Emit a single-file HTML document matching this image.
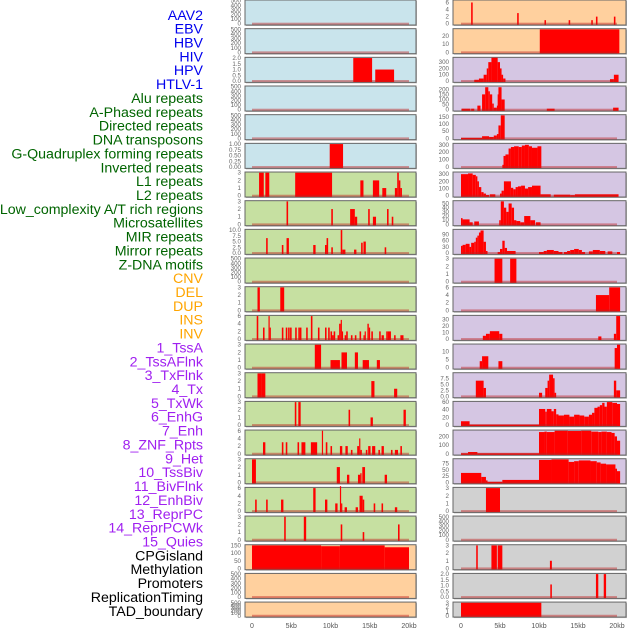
<!DOCTYPE html>
<html><head><meta charset="utf-8">
<style>
html,body{margin:0;padding:0;background:#fff;}
svg{display:block;}
</style></head>
<body>
<svg id="chart" width="630" height="630" xmlns="http://www.w3.org/2000/svg" font-family="Liberation Sans, sans-serif"></svg>
<script>
const labels = ["AAV2","EBV","HBV","HIV","HPV","HTLV-1","Alu repeats","A-Phased repeats","Directed repeats","DNA transposons","G-Quadruplex forming repeats","Inverted repeats","L1 repeats","L2 repeats","Low_complexity A/T rich regions","Microsatellites","MIR repeats","Mirror repeats","Z-DNA motifs","CNV","DEL","DUP","INS","INV","1_TssA","2_TssAFlnk","3_TxFlnk","4_Tx","5_TxWk","6_EnhG","7_Enh","8_ZNF_Rpts","9_Het","10_TssBiv","11_BivFlnk","12_EnhBiv","13_ReprPC","14_ReprPCWk","15_Quies","CPGisland","Methylation","Promoters","ReplicationTiming","TAD_boundary"];
const labelGroups = [6,13,5,15,5];
const groupColors = ["#0000ee","#006400","#ffa500","#a020f0","#000000"];
const xTicks = [0,5,10,15,20];
const xTickLabels = ["0","5kb","10kb","15kb","20kb"];

const L0=[],L1=[],L3=[],L4=[],L9=[],L20=[],L21=[];
const L2=[[12.9,15.3,2],[15.7,18.1,1]];
const L5=[[9.9,11.6,1]];
const L6=[[0.9,1.5,3],[1.7,2.2,3],[5.5,10.2,3],[13.8,14.2,2],[15.4,16.2,2],[16.6,17.1,1],[18.2,18.5,1],[18.5,18.7,3],[18.7,18.9,2],[18.9,19.1,1]];
const L7=[[4.4,4.6,3],[10.1,10.3,2],[12.5,13.1,2],[13.1,13.4,1],[14.8,15.0,2],[15.4,15.8,1],[17.2,17.4,2],[17.8,18.0,1]];
const L8=[[1.8,2.0,6.5],[3.8,4.0,3.5],[4.4,4.7,6.5],[7.8,8.1,3.5],[9.3,9.5,3.5],[9.5,9.7,6.5],[10.1,10.3,2.5],[11.3,11.5,10],[11.5,11.9,1.5],[13.0,13.3,1.5],[13.9,14.1,4.5],[14.2,14.5,5],[16.9,17.1,2.5]];
const L10=[[0.7,1.0,3],[3.6,4.1,3]];
const L11=[[0.6,0.8,6],[1.4,1.6,3],[2.1,2.25,6],[2.25,2.4,3],[3.8,4.0,3],[4.3,4.5,3],[4.6,4.8,3],[4.85,5.05,3],[5.5,5.7,3],[5.9,6.1,3],[6.1,6.3,3],[6.9,7.1,3],[7.5,7.7,6],[8.4,8.6,3],[9.3,9.5,3],[9.7,9.9,3],[10.0,10.2,2],[10.2,10.4,1],[10.4,10.6,2],[10.9,11.1,1],[11.1,11.3,4],[11.3,11.45,5],[11.45,11.6,2],[11.8,12.0,1],[12.0,12.2,2],[12.6,12.8,1],[13.1,13.3,1],[13.7,13.9,2],[14.2,14.35,1],[14.35,14.5,2],[14.7,14.88,4],[14.88,15.05,3],[15.2,15.4,2],[16.2,16.4,2],[16.5,16.8,1],[17.1,17.3,2],[17.3,17.7,2],[18.1,18.3,1],[18.9,19.3,1]];
const L12=[[8.0,8.8,3],[10.0,11.2,1],[11.4,12.1,2],[13.1,13.5,2],[14.1,14.9,1],[15.9,16.3,1]];
const L13=[[0.7,1.2,3],[1.2,1.7,3],[15.2,15.6,2],[18.1,18.5,1]];
const L14=[[5.45,5.65,3],[5.9,6.2,3],[12.3,12.5,2],[15.1,15.4,1],[19.3,19.6,2]];
const L15=[[1.4,1.7,3],[3.8,4.0,3],[4.3,4.5,3],[5.8,6.0,3],[6.3,6.8,3],[7.5,8.3,3],[8.9,9.05,6],[9.4,9.6,3],[10.0,10.2,2],[11.2,11.5,2],[11.9,12.2,2],[12.6,12.8,1],[13.4,13.65,2],[13.65,13.8,4],[13.8,14.0,1],[14.5,14.7,1],[14.8,15.1,2],[15.3,15.7,2],[16.1,16.3,1],[16.5,16.8,2],[17.7,17.9,1],[18.2,18.6,1],[18.9,19.1,2]];
const L16=[[0.0,0.5,3],[10.8,11.2,2],[12.1,12.4,1],[13.5,13.8,1],[13.8,13.95,1.2],[14.05,14.4,2],[16.9,17.2,1]];
const L17=[[0.4,0.6,3],[1.8,2.0,3],[3.7,4.0,3],[7.8,8.1,6],[9.3,9.6,3],[10.6,10.9,2],[11.2,11.35,6.5],[11.35,11.5,2],[11.8,12.1,1],[13.2,13.5,1],[13.7,14.1,4],[14.1,14.3,3],[15.5,15.7,2],[16.5,16.7,2],[18.2,18.5,1]];
const L18=[[4.1,4.3,3],[6.6,6.9,3],[11.3,11.5,2],[14.1,14.3,1],[18.6,18.8,2]];
const L19=[[0.0,8.8,150],[8.8,11.2,145],[11.2,16.9,150],[16.9,20.0,138]];

const R0=[[1.3,1.5,6],[7.2,7.4,3],[10.7,10.9,1],[13.8,14.0,1],[16.7,16.9,1],[17.3,17.5,2],[19.6,19.8,2]];
const R1=[[10.1,20.3,28]];
const R2=[[1.7,2.3,20],[2.3,2.9,40],[2.9,3.3,100],[3.3,3.5,200],[3.5,3.9,300],[3.9,4.7,370],[4.7,5.0,300],[5.0,5.2,200],[5.2,5.4,100],[5.4,5.7,40],[19.1,19.6,30],[19.6,20.2,100]];
const R3=[[0.1,1.2,10],[1.3,1.7,10],[2.1,2.5,40],[2.7,3.1,150],[3.1,3.5,220],[3.5,3.7,180],[3.7,4.0,150],[4.0,4.2,60],[4.2,4.6,20],[4.6,4.7,40],[4.7,4.8,150],[4.8,5.2,220],[5.2,5.6,100],[11.0,12.0,10],[19.5,20.2,20]];
const R4=[[0.0,2.7,3],[2.7,3.6,15],[3.6,4.2,10],[4.2,4.6,20],[4.6,4.8,30],[4.8,5.1,90],[5.1,5.6,160]];
const R5=[[5.3,5.45,30],[5.45,5.7,150],[5.7,6.1,170],[6.1,6.4,250],[6.4,6.8,270],[6.8,7.4,280],[7.4,7.8,270],[7.8,8.2,290],[8.2,8.7,300],[8.7,9.1,280],[9.1,9.8,260],[9.8,10.3,280]];
const R6=[[0.0,0.9,300],[0.9,1.5,310],[1.5,1.9,290],[1.9,2.1,270],[2.1,2.3,200],[2.3,2.6,120],[2.6,2.9,50],[2.9,3.2,30],[3.2,3.6,10],[3.7,4.4,20],[5.0,5.2,30],[5.2,5.5,70],[5.5,6.4,200],[6.4,6.7,110],[6.7,7.0,90],[7.0,7.3,120],[7.3,7.7,130],[7.7,8.2,140],[8.2,8.6,100],[8.6,9.1,120],[9.1,10.2,140],[10.2,11.5,20],[11.9,14.0,15],[14.0,14.6,8],[14.6,20.2,20]];
const R7=[[0.0,0.2,15],[0.2,1.1,12],[1.1,1.5,5],[1.7,2.3,7],[4.9,5.1,10],[5.1,5.5,55],[5.5,5.8,40],[5.8,6.1,30],[6.1,6.5,50],[6.5,6.8,40],[6.8,7.1,10],[7.1,7.6,8],[7.6,8.1,5],[8.1,8.9,20],[8.9,9.5,10],[9.6,10.2,5]];
const R8=[[0.0,0.2,35],[0.2,0.6,40],[0.6,1.1,45],[1.1,1.3,30],[1.3,1.7,50],[1.7,1.9,55],[1.9,2.1,75],[2.1,2.3,85],[2.3,2.5,100],[2.5,2.9,110],[2.9,3.2,55],[3.2,3.4,10],[4.7,5.0,5],[5.0,5.3,20],[5.3,5.6,60],[5.6,5.9,25],[5.9,7.0,10],[10.0,10.6,5],[10.6,11.0,10],[11.0,11.9,15],[11.9,12.5,10],[12.5,13.0,5],[13.2,13.6,5],[13.6,14.0,10],[14.0,14.5,15],[14.5,15.1,20],[15.1,15.5,15],[15.5,15.9,5],[16.4,16.9,8],[16.9,17.8,15],[17.8,18.5,10],[18.8,19.4,8],[20.0,20.4,5]];
const R9=[[4.3,5.3,3],[6.3,7.1,3]];
const R10=[[17.3,19.0,4],[19.0,20.4,6]];
const R11=[[2.8,3.2,5],[3.2,3.7,8],[3.7,4.9,12],[4.9,5.3,8],[17.6,18.0,4],[19.6,19.9,8],[19.9,20.4,35]];
const R12=[[2.4,2.7,4],[2.7,3.5,7],[4.8,5.3,4],[19.7,20.0,12],[20.0,20.4,14]];
const R13=[[1.9,2.9,6.5],[2.9,3.2,3.5],[10.0,10.4,1.5],[10.8,11.1,3.5],[11.1,11.3,6.5],[11.3,11.8,9],[11.8,12.0,7.5],[12.0,12.2,1.5],[19.6,19.9,6.5],[19.9,20.4,2.5]];
const R14=[[0.0,1.1,10],[1.1,10.0,1],[10.0,10.8,42],[10.8,11.0,35],[11.0,11.6,42],[11.6,11.9,36],[11.9,12.2,42],[12.2,12.5,28],[12.5,13.2,25],[13.2,13.9,27],[13.9,14.5,22],[14.5,15.2,27],[15.2,15.8,25],[15.8,16.4,22],[16.4,16.8,27],[16.8,17.1,32],[17.1,17.5,45],[17.5,17.8,48],[17.8,18.1,52],[18.1,18.4,58],[18.4,18.7,48],[18.7,19.4,60],[19.4,20.0,58],[20.0,20.4,55]];
const R15=[[0.0,0.9,5],[0.9,2.1,20],[2.1,10.0,5],[10.0,10.7,250],[10.7,11.0,255],[11.0,12.0,250],[12.0,13.7,265],[13.7,15.4,262],[15.4,16.7,265],[16.7,17.6,255],[17.6,18.0,250],[18.0,18.7,255],[18.7,19.3,250],[19.3,19.7,240],[19.7,20.0,200],[20.0,20.4,150]];
const R16=[[0.0,2.6,38],[2.6,3.2,22],[3.2,3.4,8],[3.4,5.3,2],[5.3,10.0,10],[10.0,11.6,90],[11.6,13.8,92],[13.8,14.5,82],[14.5,15.1,85],[15.1,16.6,88],[16.6,17.4,85],[17.4,17.9,80],[17.9,18.6,75],[18.6,19.8,72],[19.8,20.0,55],[20.0,20.4,45]];
const R17=[[3.2,5.0,3]];
const R18=[];
const R19=[[1.95,2.15,3],[3.9,4.6,3],[4.7,5.3,3],[11.4,11.65,1]];
const R20=[[11.45,11.65,1.1],[17.3,17.6,2],[18.3,18.6,2]];
const R21=[[0.0,10.3,3]];

const leftData=[L0,L1,L2,L3,L4,L5,L6,L7,L8,L9,L10,L11,L12,L13,L14,L15,L16,L17,L18,L19,L20,L21];
const rightData=[R0,R1,R2,R3,R4,R5,R6,R7,R8,R9,R10,R11,R12,R13,R14,R15,R16,R17,R18,R19,R20,R21];
const E=["0","100","200","300","400","500"], EV=[0,100,200,300,400,500];
const leftMax=[500,500,2,500,500,1,3,3,10,500,3,6,3,3,3,6,3,6,3,150,500,500];
const rightMax=[6.5,28,365,225,160,310,320,55,112,3,6,35,14,9.5,60,265,92,3,500,3,2,3];
const leftTickV=[EV,EV,[0,0.5,1,1.5,2],EV,EV,[0,0.25,0.5,0.75,1],[0,1,2,3],[0,1,2,3],[0,2.5,5,7.5,10],EV,[0,1,2,3],[0,2,4,6],[0,1,2,3],[0,1,2,3],[0,1,2,3],[0,2,4,6],[0,1,2,3],[0,2,4,6],[0,1,2,3],[0,50,100,150],EV,EV];
const leftTickL=[E,E,["0.0","0.5","1.0","1.5","2.0"],E,E,["0.00","0.25","0.50","0.75","1.00"],["0","1","2","3"],["0","1","2","3"],["0.0","2.5","5.0","7.5","10.0"],E,["0","1","2","3"],["0","2","4","6"],["0","1","2","3"],["0","1","2","3"],["0","1","2","3"],["0","2","4","6"],["0","1","2","3"],["0","2","4","6"],["0","1","2","3"],["0","50","100","150"],E,E];
const rightTickV=[[0,2,4,6],[0,10,20],[0,100,200,300],[0,50,100,150,200],[0,50,100,150],[0,100,200,300],[0,100,200,300],[0,10,20,30,40,50],[0,30,60,90],[0,1,2,3],[0,2,4,6],[0,10,20,30],[0,5,10],[0,2.5,5,7.5],[0,20,40,60],[0,100,200],[0,25,50,75],[0,1,2,3],EV,[0,1,2,3],[0,0.5,1,1.5,2],[0,1,2,3]];
const rightTickL=[["0","2","4","6"],["0","10","20"],["0","100","200","300"],["0","50","100","150","200"],["0","50","100","150"],["0","100","200","300"],["0","100","200","300"],["0","10","20","30","40","50"],["0","30","60","90"],["0","1","2","3"],["0","2","4","6"],["0","10","20","30"],["0","5","10"],["0.0","2.5","5.0","7.5"],["0","20","40","60"],["0","100","200"],["0","25","50","75"],["0","1","2","3"],E,["0","1","2","3"],["0.0","0.5","1.0","1.5","2.0"],["0","1","2","3"]];
const leftBg=[];for(let i=0;i<22;i++)leftBg.push(i<6?"#c9e4ec":(i<19?"#c6e0a1":"#ffd09e"));
const rightBg=[];for(let i=0;i<22;i++)rightBg.push(i<2?"#ffd09e":(i<17?"#d5c6e3":"#d1d1d1"));

const NS="http://www.w3.org/2000/svg";
const svg=document.getElementById('chart');
function mk(tag,attrs,parent){const e=document.createElementNS(NS,tag);for(const k in attrs)e.setAttribute(k,attrs[k]);(parent||svg).appendChild(e);return e;}

let li=0;
labelGroups.forEach((n,g)=>{for(let j=0;j<n;j++){const t=mk('text',{x:203,y:19.8+li*13.86,'text-anchor':'end','font-size':14.2,fill:groupColors[g]});t.textContent=labels[li];

li++;}});

function rowTop(i){return i*28.67;}
function rowH(i){return i===21?15:25;}

function panel(col,i,segs,max,tv,tl,bg,name){
  const px=col===0?245:453, pw=col===0?171:173;
  const x0=col===0?252:461, xs=col===0?7.85:7.8;
  const top=rowTop(i), h=rowH(i);
  const g=mk('g',{});
  
  
  mk('rect',{x:px+1,y:top+1,width:pw,height:h,fill:'#bbbbbb'},g);
  mk('rect',{x:px,y:top,width:pw,height:h,fill:bg,stroke:'#666',"stroke-width":1},g);
  const y0=top+h-1.3, yr=h-2;
  const ym=v=>y0-v/max*yr;
  const xm=k=>x0+k*xs;
  segs.forEach(s=>{const r=mk('rect',{x:xm(s[0]),y:ym(s[2]),width:Math.max(1.2,xm(s[1])-xm(s[0])),height:Math.max(0,y0-ym(s[2])+1),fill:'#ff0000'},g);
    
    });
  const bl=mk('rect',{x:xm(0),y:y0-1,width:xm(20)-xm(0),height:2,fill:'rgba(190,30,30,0.45)'},g);
  
  
  tv.forEach((v,k)=>{const t=mk('text',{x:px-4,y:ym(v)+2,'text-anchor':'end','font-size':6.2,fill:'#666'},g);t.textContent=tl[k];
    
    });
}
for(let i=0;i<22;i++){
  panel(0,i,leftData[i],leftMax[i],leftTickV[i],leftTickL[i],leftBg[i],labels[i].toLowerCase().replace(/[^a-z0-9]+/g,'-'));
  panel(1,i,rightData[i],rightMax[i],rightTickV[i],rightTickL[i],rightBg[i],labels[22+i].toLowerCase().replace(/[^a-z0-9]+/g,'-'));
}
[[252,7.85],[461,7.8]].forEach(a=>{xTicks.forEach((k,j)=>{const t=mk('text',{x:a[0]+k*a[1],y:628,'text-anchor':'middle','font-size':7,fill:'#555'});t.textContent=xTickLabels[j];
  
  });});
</script>
</body></html>
